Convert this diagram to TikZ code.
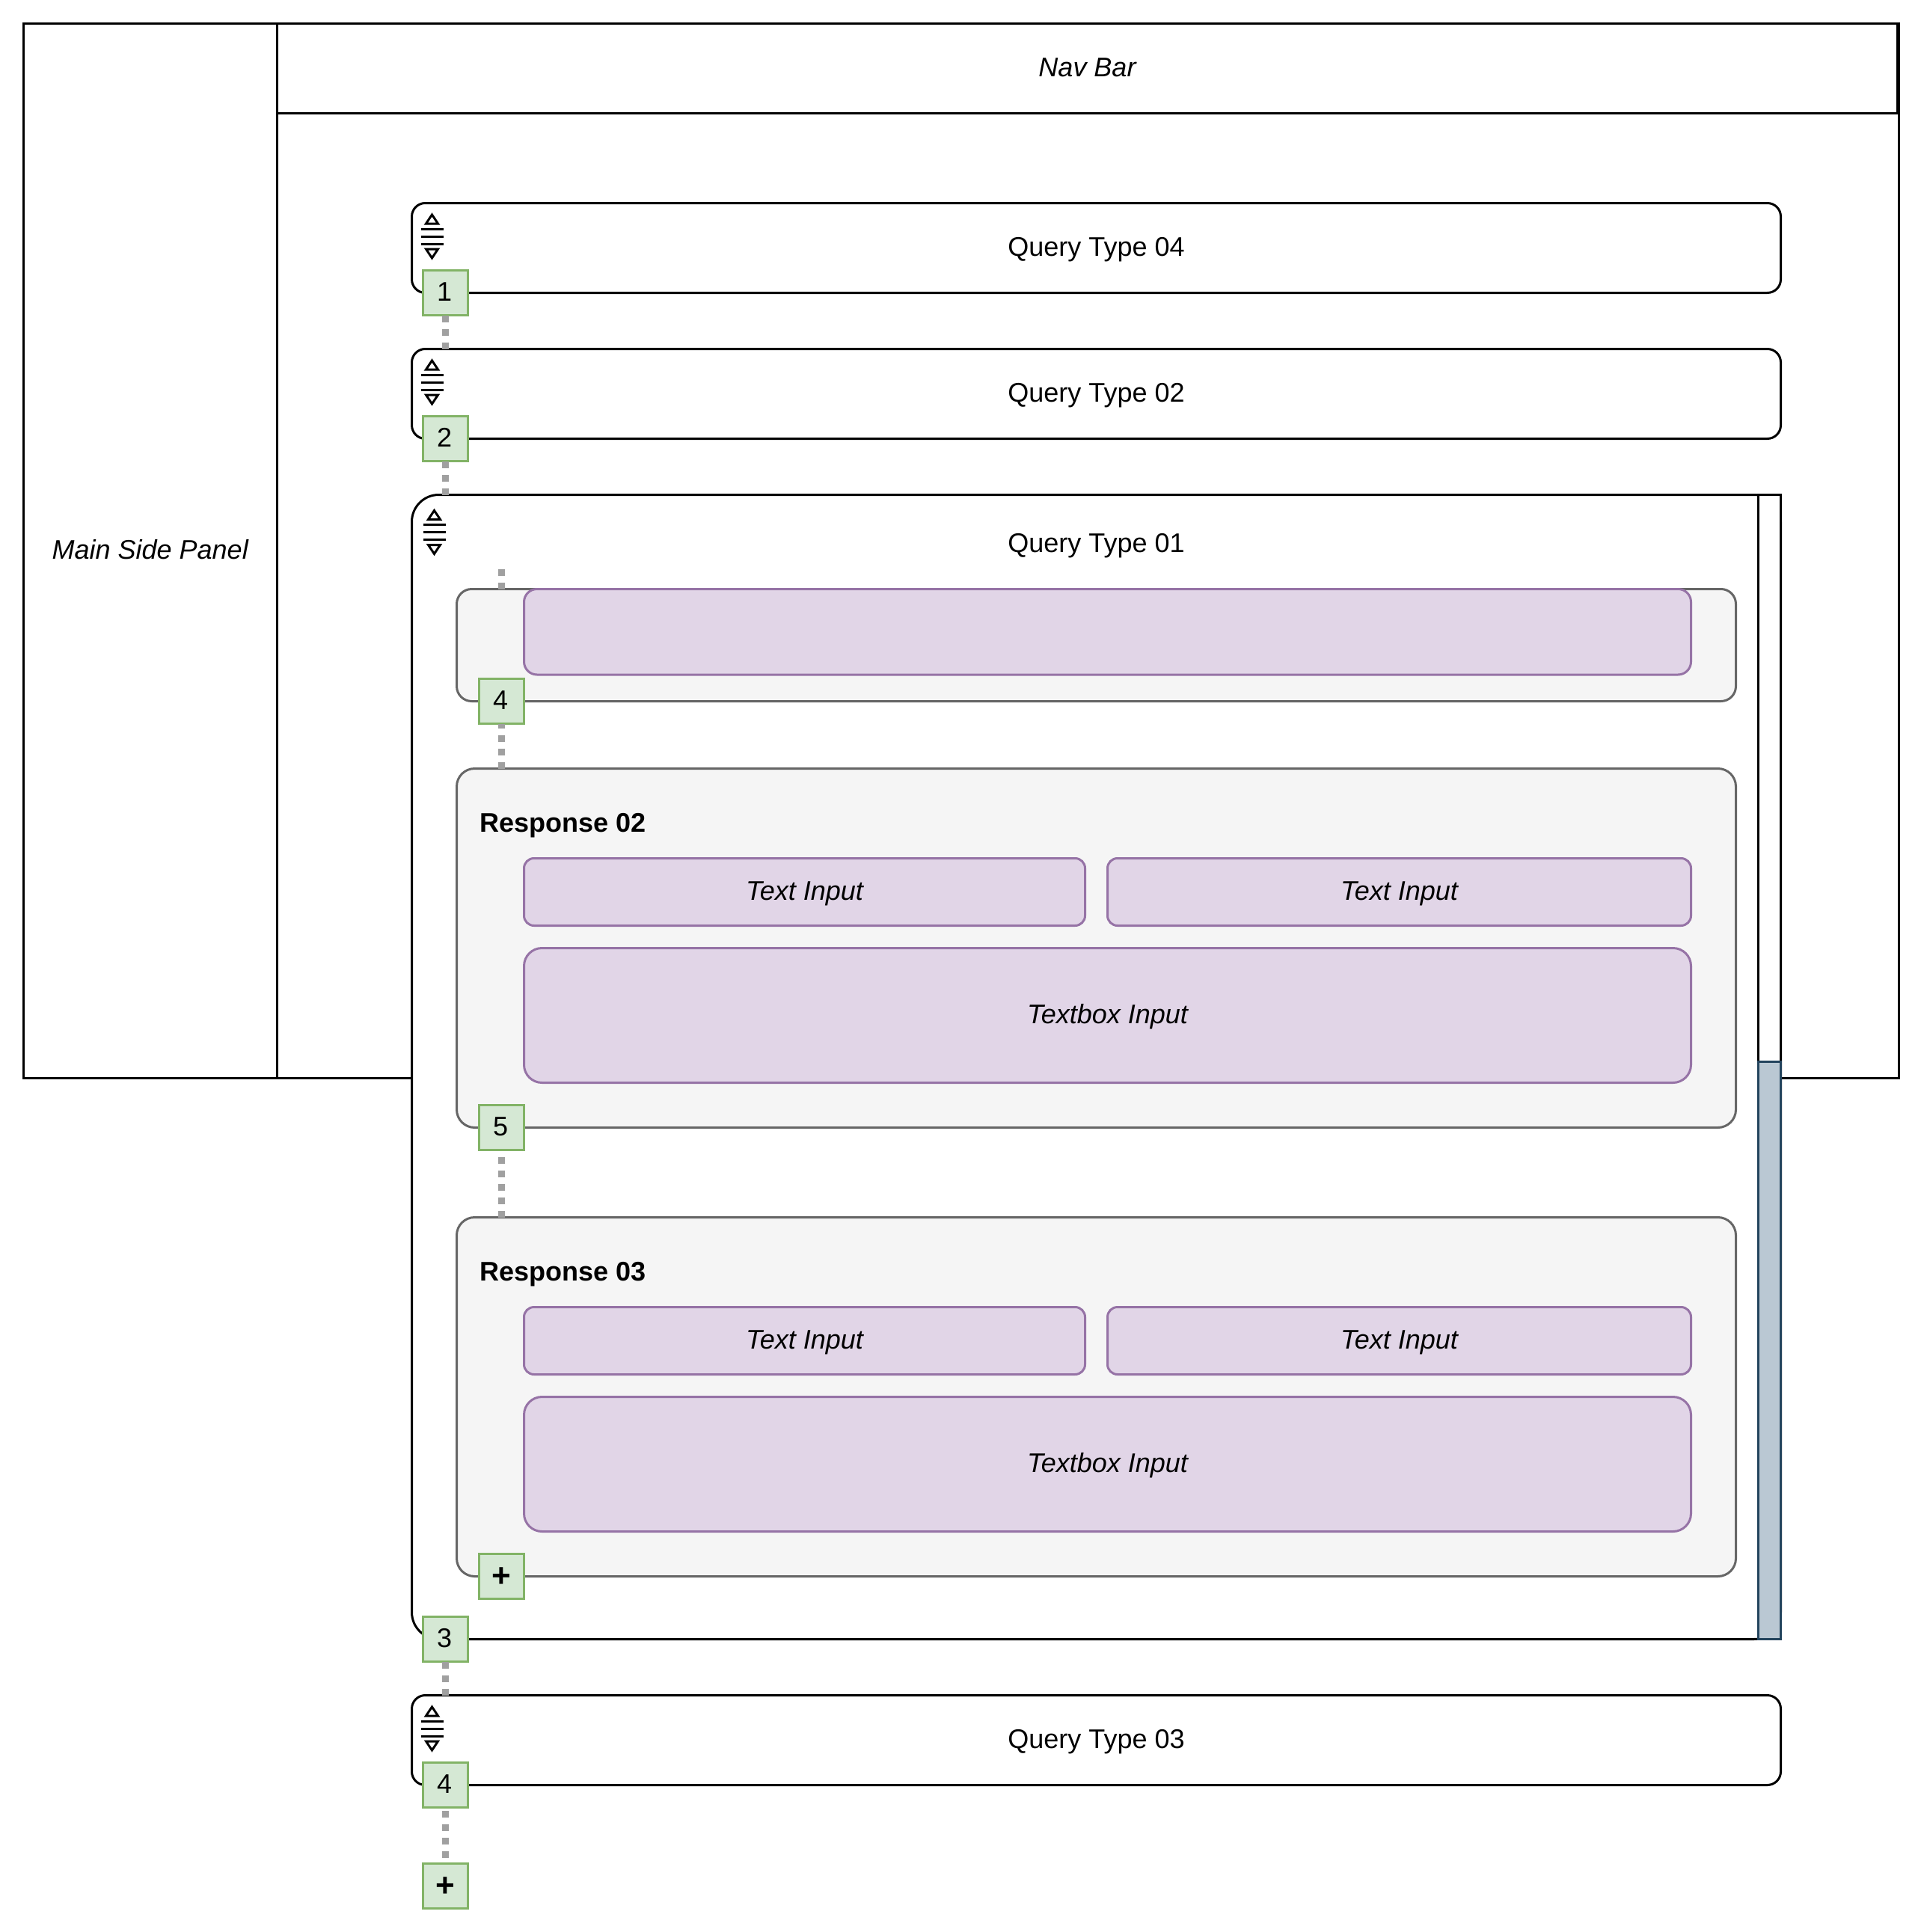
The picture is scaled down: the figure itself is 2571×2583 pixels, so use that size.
\documentclass[tikz,border=0pt]{standalone}
\usepackage{fontspec}
\setmainfont{Liberation Sans}
\definecolor{grnF}{HTML}{D5E8D4}\definecolor{grnS}{HTML}{82B366}
\definecolor{purF}{HTML}{E1D5E7}\definecolor{purS}{HTML}{9673A6}
\definecolor{gryF}{HTML}{F5F5F5}\definecolor{gryS}{HTML}{666666}
\definecolor{bluF}{HTML}{BAC8D3}\definecolor{bluS}{HTML}{23445D}
\definecolor{dotc}{HTML}{A0A0A0}
\newcommand\mkbox[7]{\node[#2, minimum width={(#5-#3)*0.75pt}, minimum height={(#6-#4)*0.75pt}] (#1) at ({(#3+#5)/2},{(#4+#6)/2}) {#7};}
\newcommand\plusmark{\raisebox{-2pt}{\fontsize{33pt}{36pt}\selectfont\bfseries +}}
\newcommand\digit[1]{\kern-2pt #1}
\tikzset{
  every node/.style={inner sep=0pt, outer sep=0pt, text height=20.25pt, text depth=3.75pt, font=\fontsize{27pt}{32pt}\selectfont, text=black},
  pane/.style={draw=black, line width=2.25pt, fill=white, rectangle},
  qbox/.style={pane, rounded corners=13.5pt},
  qbig/.style={pane, rounded corners=27pt},
  resp/.style={draw=gryS, fill=gryF, line width=2.25pt, rectangle, rounded corners=#1},
  resp/.default=18pt,
  inp/.style={draw=purS, fill=purF, line width=2.25pt, rectangle, rounded corners=#1, font=\fontsize{27pt}{32pt}\selectfont\itshape},
  inp/.default=10pt,
  badge/.style={draw=grnS, fill=grnF, line width=2.25pt, rectangle},
  thumb/.style={draw=bluS, fill=bluF, line width=2.25pt, rectangle},
  dots/.style={draw=dotc, line width=6.75pt, dash pattern=on 6.75pt off 6.75pt},
  dotsgap/.style={dots, dash phase=10pt},
  updown/.pic={
    \draw[line width=2.25pt, line join=miter] (-8,-17) -- (8,-17) -- (0,-29) -- cycle;
    \draw[line width=2.25pt, line join=miter] (-8,17) -- (8,17) -- (0,29) -- cycle;
    \draw[line width=2.25pt] (-15,-10) -- (15,-10) (-15,0) -- (15,0) (-15,10) -- (15,10);
  }
}
\begin{document}
\begin{tikzpicture}[x=0.75pt,y=-0.75pt]
\useasboundingbox (0,0) rectangle (2571,2583);
% frame
\mkbox{main}{pane}{370.5}{31.3}{2538.3}{1441}{}
\mkbox{side}{pane,font=\fontsize{27pt}{32pt}\selectfont\itshape}{31}{31.3}{370.5}{1441}{Main Side Panel}
\mkbox{nav}{pane,font=\fontsize{27pt}{32pt}\selectfont\itshape}{370.5}{31.3}{2536.5}{151.3}{Nav Bar}
% query boxes
\mkbox{qfour}{qbox}{550.5}{271.5}{2380.5}{391.5}{Query Type 04}
\mkbox{qtwo}{qbox}{550.5}{466.5}{2380.5}{586.5}{Query Type 02}
\mkbox{qone}{qbig}{550.5}{661.5}{2380.5}{2191.5}{}
\node (qonetext) at (1465.5,727.5) {Query Type 01};
\mkbox{track}{pane}{2350.5}{661.5}{2380.5}{1419}{}
\mkbox{bar}{thumb}{2350.5}{1419}{2380.5}{2191.5}{}
\mkbox{qthree}{qbox}{550.5}{2266.5}{2380.5}{2386.5}{Query Type 03}
% icons
\pic at (577.5,316) {updown};
\pic at (577.5,511) {updown};
\pic at (580.5,711.5) {updown};
\pic at (577.5,2311) {updown};
% response 1
\mkbox{rone}{resp=15pt}{610.5}{787.5}{2320.5}{937.5}{}
\mkbox{ronei}{inp=13pt}{700.5}{787.5}{2260.5}{902}{}
% response 2
\mkbox{rtwo}{resp}{610.5}{1027.5}{2320.5}{1507.5}{}
\node[anchor=west, font=\fontsize{27pt}{32pt}\selectfont\bfseries] (rtwol) at (641,1101.5) {Response 02};
\mkbox{ia}{inp}{700.5}{1147.5}{1450.5}{1237.5}{Text Input}
\mkbox{ib}{inp}{1480.5}{1147.5}{2260.5}{1237.5}{Text Input}
\mkbox{ic}{inp=18pt}{700.5}{1267.5}{2260.5}{1447.5}{Textbox Input}
% response 3
\mkbox{rthree}{resp}{610.5}{1627.5}{2320.5}{2107.5}{}
\node[anchor=west, font=\fontsize{27pt}{32pt}\selectfont\bfseries] (rthreel) at (641,1701.5) {Response 03};
\mkbox{ja}{inp}{700.5}{1747.5}{1450.5}{1837.5}{Text Input}
\mkbox{jb}{inp}{1480.5}{1747.5}{2260.5}{1837.5}{Text Input}
\mkbox{jc}{inp=18pt}{700.5}{1867.5}{2260.5}{2047.5}{Textbox Input}
% badges
\mkbox{b1}{badge}{565.5}{361.5}{625.5}{421.5}{\digit{1}}
\mkbox{b2}{badge}{565.5}{556.5}{625.5}{616.5}{\digit{2}}
\mkbox{b3}{badge}{565.5}{2161.5}{625.5}{2221.5}{\digit{3}}
\mkbox{b4}{badge}{565.5}{2356.5}{625.5}{2416.5}{\digit{4}}
\mkbox{bp}{badge}{565.5}{2491.5}{625.5}{2551.5}{\plusmark}
\mkbox{c4}{badge}{640.5}{907.5}{700.5}{967.5}{\digit{4}}
\mkbox{c5}{badge}{640.5}{1477.5}{700.5}{1537.5}{\digit{5}}
\mkbox{cp}{badge}{640.5}{2077.5}{700.5}{2137.5}{\plusmark}
% connectors
\coordinate (free) at (670.5,760);
\draw[dots] (b1.south) -- (b1.south |- qtwo.north);
\draw[dots] (b2.south) -- (b2.south |- qone.north);
\draw[dots] (b3.south) -- (b3.south |- qthree.north);
\draw[dotsgap] (b4.south) -- (bp.north);
\draw[dots] (free |- rone.north) -- (free);
\draw[dots] (c4.south |- rtwo.north) -- (c4.south);
\draw[dots] (c5.south |- rthree.north) -- (c5.south);
\end{tikzpicture}
\end{document}
